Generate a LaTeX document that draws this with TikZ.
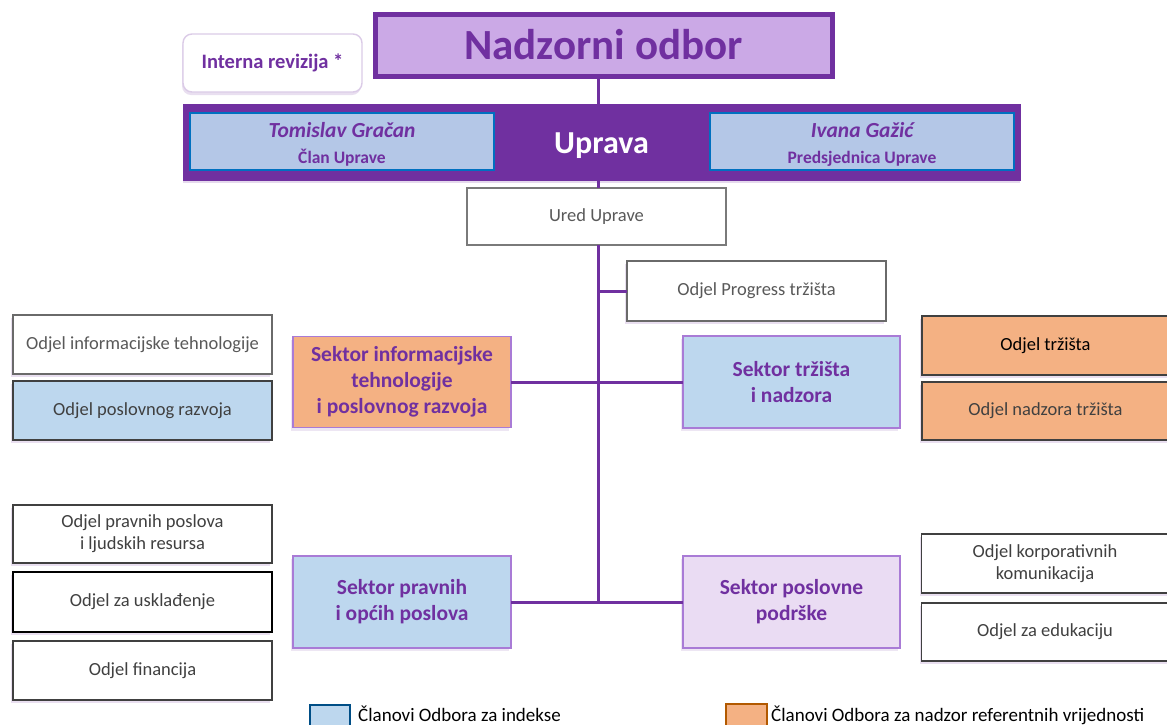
\documentclass[tikz,border=0pt]{standalone}
\usepackage{fontspec}
\setmainfont{Carlito}
\usetikzlibrary{shadows}
\definecolor{purp}{HTML}{7030A0}
\definecolor{nadfill}{HTML}{CBA9E6}
\definecolor{blueL}{HTML}{BDD7EE}
\definecolor{blueU}{HTML}{B4C7E7}
\definecolor{blueB}{HTML}{0070C0}
\definecolor{orng}{HTML}{F4B183}
\definecolor{lav}{HTML}{EADCF3}
\definecolor{secborder}{HTML}{A97BD6}
\definecolor{dgrey}{HTML}{404040}
\definecolor{mgrey}{HTML}{595959}
\tikzset{
  x=1pt,y=-1pt,
  box/.style 2 args={draw, rectangle, inner sep=0pt, outer sep=0pt, minimum width=#1, minimum height=#2, align=center},
  dept/.style={draw=dgrey, line width=1.4pt, text=dgrey, font=\fontsize{18.5}{22}\selectfont,
     drop shadow={shadow xshift=-2pt, shadow yshift=-3pt, fill=purp!25, opacity=0.6}},
  sector/.style={draw=secborder, line width=1.4pt, text=purp, font=\bfseries\fontsize{21.5}{26}\selectfont,
     drop shadow={shadow xshift=-2pt, shadow yshift=-3pt, fill=purp!20, opacity=0.6}},
  conn/.style={draw=purp, line width=3pt},
  member/.style={draw=blueB, line width=2.4pt, fill=blueU},
  membertext/.style={inner sep=0pt, align=center, text=purp, font=\fontsize{18}{26}\selectfont},
}
\begin{document}
\begin{tikzpicture}
\useasboundingbox (0,0) rectangle (1167,724);
\fill[white] (0,0) rectangle (1167,724);

% Nadzorni odbor
\node[box={457pt}{62pt}, fill=nadfill, draw=purp, line width=5pt, text=purp,
  font=\bfseries\fontsize{43}{48}\selectfont] (nad) at (603.5,45) {Nadzorni odbor};
% Interna revizija
\node[box={179pt}{58pt}, rounded corners=9pt, fill=white, draw=purp!25, line width=1.4pt, text=purp,
  font=\bfseries\fontsize{20.5}{24}\selectfont,
  drop shadow={shadow xshift=-1pt, shadow yshift=-3pt, fill=purp!25, opacity=0.6}] (ir) at (272.5,63) {Interna revizija *};
% Uprava
\node[box={837pt}{76pt}, fill=purp, draw=purp, line width=0pt,
  drop shadow={shadow xshift=0pt, shadow yshift=-3pt, fill=purp!30, opacity=0.6}] (up) at (601.5,142) {};
\node[inner sep=0pt, text=white, font=\bfseries\fontsize{32}{36}\selectfont] (upt) at ([yshift=-4pt]up.center) {Uprava};
\node[box={304pt}{57pt}, member] (tom) at (342,141.5) {};
\node[membertext] (tomt) at ([yshift=-3pt]tom.center)
  {{\bfseries\itshape\fontsize{21.5}{26}\selectfont Tomislav Gračan}\\{\bfseries\fontsize{17.5}{20}\selectfont Član Uprave}};
\node[box={304pt}{57pt}, member] (iva) at (862,141.5) {};
\node[membertext] (ivat) at ([yshift=-3pt]iva.center)
  {{\bfseries\itshape\fontsize{21.5}{26}\selectfont Ivana Gažić}\\{\bfseries\fontsize{17.5}{20}\selectfont Predsjednica Uprave}};

% Ured Uprave
\node[box={259pt}{57pt}, draw=mgrey!80, line width=1.2pt, fill=white, text=mgrey,
  font=\fontsize{18.5}{22}\selectfont] (ured) at (596.5,216.5) {Ured Uprave};

% Odjel Progress
\node[box={259pt}{60pt}, dept, fill=white, text=mgrey, draw=mgrey!90] (prog) at (756.5,291) {Odjel Progress tržišta};

% Sectors
\node[box={218pt}{91pt}, sector, fill=orng] (sit) at (402,382) {Sektor informacijske\\tehnologije\\i poslovnog razvoja};
\node[box={217pt}{92pt}, sector, fill=blueL] (str) at (791.5,382) {Sektor tržišta\\i nadzora};
\node[box={218pt}{92pt}, sector, fill=blueL] (spo) at (402,602) {Sektor pravnih\\i općih poslova};
\node[box={217pt}{92pt}, sector, fill=lav] (spp) at (791.5,602) {Sektor poslovne\\podrške};

% Left departments
\node[box={259pt}{59pt}, dept, fill=white, text=mgrey, draw=mgrey!90] (oit) at (142.5,344.5) {Odjel informacijske tehnologije};
\node[box={259pt}{59pt}, dept, fill=blueL] (opr) at (142.5,410.5) {Odjel poslovnog razvoja};
\node[box={259pt}{58pt}, dept, fill=white] (opp) at (142.5,534) {Odjel pravnih poslova\\i ljudskih resursa};
\node[box={259pt}{60pt}, dept, fill=white, draw=black] (ouk) at (142.5,602) {Odjel za usklađenje};
\node[box={259pt}{59pt}, dept, fill=white] (ofi) at (142.5,670.5) {Odjel financija};

% Right departments
\node[box={247pt}{59pt}, dept, fill=orng, text=black] (otr) at (1045.5,345.5) {Odjel tržišta};
\node[box={247pt}{58pt}, dept, fill=orng] (ont) at (1045.5,411) {Odjel nadzora tržišta};
\node[box={247pt}{59pt}, dept, fill=white] (okk) at (1045,563.5) {Odjel korporativnih\\komunikacija};
\node[box={247pt}{58pt}, dept, fill=white] (oed) at (1045,632) {Odjel za edukaciju};

% Connectors
\coordinate (bot) at (598,602);
\draw[conn] (598,76) -- (598,104);
\draw[conn] (598,180) -- (598,188);
\draw[conn] (598,245) -- (bot);
\draw[conn] (598,291) -- (prog.west);
\draw[conn] (sit.east) -- (str.west);
\draw[conn] (spo.east) -- (spp.west);

% Legend
\node[box={40pt}{22pt}, draw=blueB!70!black, line width=1.2pt, fill=blueL] (lg1) at (330,716) {};
\node[anchor=base west, inner sep=0pt, font=\fontsize{19}{22}\selectfont, text=black] (lt1) at (358,721) {Članovi Odbora za indekse};
\node[box={41pt}{22pt}, draw=orange!70!black, line width=1.2pt, fill=orng] (lg2) at (746.5,715) {};
\node[anchor=base west, inner sep=0pt, font=\fontsize{19}{22}\selectfont, text=black] (lt2) at (771,721) {Članovi Odbora za nadzor referentnih vrijednosti};
\end{tikzpicture}
\end{document}
